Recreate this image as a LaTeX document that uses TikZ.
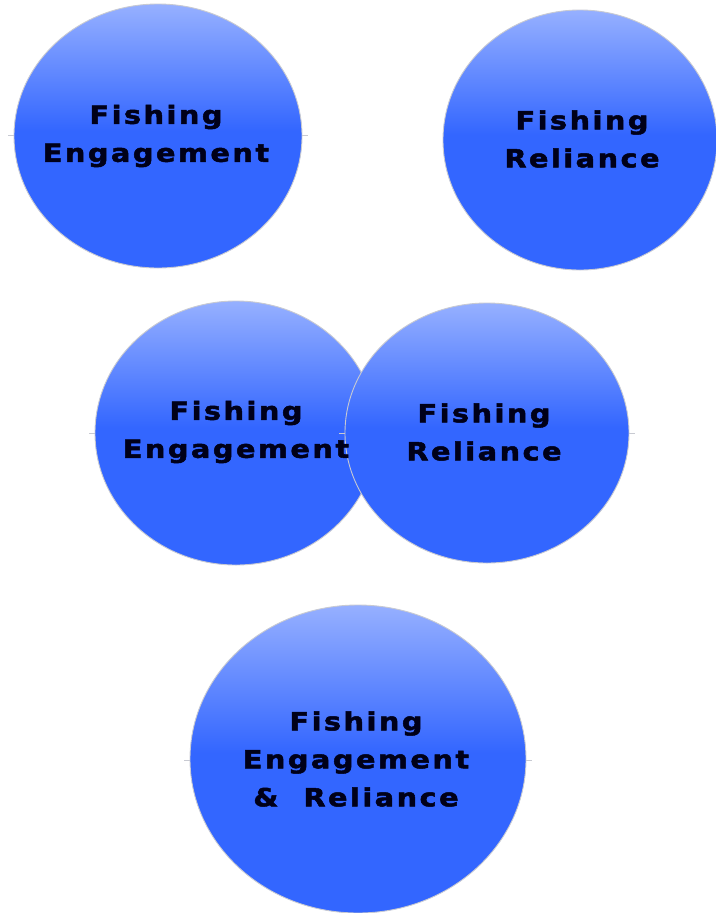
\documentclass[tikz,border=0pt]{standalone}
\usepackage{fontspec}
\newfontfamily\lblfont[LetterSpace=10,FakeBold=2,FakeStretch=1.15]{DejaVu Sans Bold}
\definecolor{basecol}{RGB}{51,102,255}
\definecolor{lightcol}{RGB}{150,176,255}
\definecolor{rimcol}{RGB}{200,202,210}
\pgfdeclareverticalshading{blobshade}{100bp}{color(0bp)=(basecol); color(51bp)=(basecol); color(75bp)=(lightcol); color(100bp)=(lightcol)}
\begin{document}
\begin{tikzpicture}[x=1pt,y=-1pt,
  blob/.style={draw=rimcol, line width=0.9pt, shading=blobshade},
  lbl/.style={font=\lblfont\fontsize{25}{38}\selectfont, align=center, text=black!90!blue, inner sep=0pt},
  tick/.style={draw=rimcol, line width=0.9pt}]
\useasboundingbox (0,0) rectangle (715,913);
% ellipses
\path[blob] (158,136) ellipse [x radius=144, y radius=132];
\path[blob] (580,140) ellipse [x radius=137, y radius=130];
\path[blob] (236,433) ellipse [x radius=141, y radius=132];
\path[blob] (487,433) ellipse [x radius=142, y radius=130];
\path[blob] (358,759) ellipse [x radius=168, y radius=154];
% small ticks
\draw[tick] (8,135) -- (14,135);
\draw[tick] (302,135) -- (308,135);
\draw[tick] (89,433) -- (95,433);
\draw[tick] (339,433) -- (345,433);
\draw[tick] (629,433) -- (635,433);
\draw[tick] (184,760) -- (190,760);
\draw[tick] (526,760) -- (532,760);
% labels
\node[lbl] (a) at (156,136) {Fishing\\Engagement};
\node[lbl] (b) at (582,139) {Fishing\\Reliance};
\node[lbl] (c) at (236,432) {Fishing\\Engagement};
\node[lbl] (d) at (484,432) {Fishing\\Reliance};
\node[lbl] (e) at (356,759) {Fishing\\Engagement\\\&\ \ Reliance};
\end{tikzpicture}
\end{document}
